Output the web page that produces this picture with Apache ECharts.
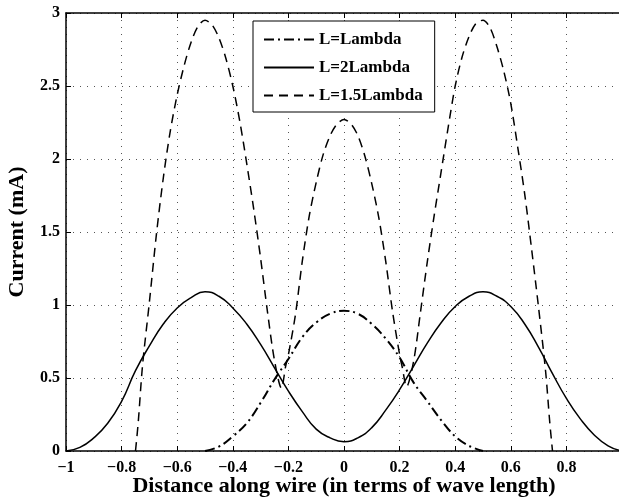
<!DOCTYPE html>
<html><head><meta charset="utf-8">
<script src="https://cdn.jsdelivr.net/npm/echarts@6/dist/echarts.min.js"></script>
<style>html,body{margin:0;padding:0;background:#fff}#c{width:619px;height:498px}</style>
</head><body><div id="c"></div>
<script>
// Series names (legend order)
const seriesNames = ['L=Lambda', 'L=2Lambda', 'L=1.5Lambda'];

// L=Lambda (dash-dot)
const lambdaX = [-0.5,-0.45,-0.4,-0.35,-0.3,-0.25,-0.2,-0.15,-0.1,-0.05,0,0.05,0.1,0.15,0.2,0.25,0.3,0.35,0.4,0.45,0.5];
const lambdaY = [0,0.03,0.10,0.19,0.33,0.49,0.63,0.78,0.88,0.94,0.96,0.94,0.87,0.77,0.64,0.47,0.34,0.21,0.10,0.035,0];

// L=2Lambda (solid)
const twoX = [-1,-0.95,-0.9,-0.85,-0.8,-0.75,-0.7,-0.65,-0.6,-0.55,-0.5,-0.45,-0.4,-0.35,-0.3,-0.25,-0.2,-0.15,-0.1,-0.05,0,
              0.05,0.1,0.15,0.2,0.25,0.3,0.35,0.4,0.45,0.5,0.55,0.6,0.65,0.7,0.75,0.8,0.85,0.9,0.95,0.99];
const twoY = [0,0.025,0.09,0.19,0.34,0.55,0.72,0.87,0.98,1.05,1.09,1.06,0.98,0.87,0.73,0.57,0.41,0.27,0.15,0.09,0.064,
              0.09,0.16,0.28,0.42,0.58,0.74,0.88,0.99,1.06,1.09,1.06,0.99,0.87,0.71,0.53,0.36,0.22,0.11,0.035,0.005];

// L=1.5Lambda (dashed)
const oneHalfX = [-0.75,-0.74,-0.725,-0.7,-0.675,-0.65,-0.625,-0.6,-0.575,-0.55,-0.525,-0.5,-0.475,-0.45,-0.425,-0.4,-0.375,-0.35,-0.325,-0.3,-0.275,-0.25,-0.225,-0.21,-0.2,-0.175,-0.15,-0.125,-0.1,-0.075,-0.05,-0.025,
                  0,0.025,0.05,0.075,0.1,0.125,0.15,0.175,0.2,0.21,0.225,0.25,0.275,0.3,0.325,0.35,0.375,0.4,0.425,0.45,0.475,0.5,0.525,0.55,0.575,0.6,0.625,0.65,0.675,0.7,0.725,0.74,0.75];
const oneHalfY = [0,0.20,0.58,1.02,1.48,1.87,2.19,2.44,2.64,2.80,2.91,2.95,2.92,2.83,2.69,2.50,2.26,1.97,1.66,1.32,0.95,0.62,0.43,0.58,0.66,0.93,1.30,1.61,1.84,2.03,2.16,2.24,
                  2.27,2.24,2.16,2.02,1.83,1.60,1.30,0.95,0.66,0.57,0.44,0.61,0.95,1.30,1.62,1.92,2.22,2.50,2.70,2.84,2.93,2.95,2.90,2.77,2.60,2.38,2.08,1.76,1.38,0.98,0.55,0.20,0];

// Axis ticks
const xMin = -1, xMax = 1, xStep = 0.2;
const yMin = 0, yMax = 3, yStep = 0.5;

const FONT = '"Liberation Serif", "Times New Roman", serif';
const pairs = (xs, ys) => xs.map((x, i) => [x, ys[i]]);
const minus = v => { const s = String(Math.round(v * 100) / 100); return s.replace('-', '\u2212'); };

const chart = echarts.init(document.getElementById('c'), null, {renderer: 'canvas'});
chart.setOption({
  animation: false,
  backgroundColor: '#fff',
  grid: {left: 66, width: 556, top: 13, bottom: 47, containLabel: false, outerBoundsMode: 'none'},
  legend: {
    data: seriesNames, orient: 'vertical', left: 253, top: 21,
    itemWidth: 50, itemHeight: 14, itemGap: 11, padding: [10, 12, 8, 10],
    borderColor: '#000', borderWidth: 1, backgroundColor: '#fff', borderRadius: 0,
    itemStyle: {opacity: 0},
    textStyle: {fontFamily: FONT, fontWeight: 'bold', fontSize: 17, color: '#000'}
  },
  xAxis: [{
    type: 'value', min: xMin, max: xMax, interval: xStep, position: 'bottom',
    name: 'Distance along wire (in terms of wave length)', nameLocation: 'middle', nameGap: 24,
    nameMoveOverlap: false,
    nameTextStyle: {fontFamily: FONT, fontWeight: 'bold', fontSize: 22, color: '#000'},
    axisLine: {show: true, onZero: false, lineStyle: {color: '#000', width: 1.5}},
    axisTick: {show: true, inside: true, length: 5, lineStyle: {color: '#000', width: 1}},
    axisLabel: {margin: 9, fontFamily: FONT, fontWeight: 'bold', fontSize: 16, color: '#000', formatter: minus},
    splitLine: {show: true, lineStyle: {color: '#555', width: 1, type: [1, 6]}}
  }, {
    type: 'value', min: xMin, max: xMax, interval: xStep, position: 'top',
    axisLine: {show: true, onZero: false, lineStyle: {color: '#000', width: 1.5}},
    axisTick: {show: true, inside: true, length: 5, lineStyle: {color: '#000', width: 1}},
    axisLabel: {show: false}, splitLine: {show: false}
  }],
  yAxis: [{
    type: 'value', min: yMin, max: yMax, interval: yStep,
    name: 'Current (mA)', nameLocation: 'middle', nameGap: 38,
    nameMoveOverlap: false,
    nameTextStyle: {fontFamily: FONT, fontWeight: 'bold', fontSize: 22, color: '#000'},
    axisLine: {show: true, onZero: false, lineStyle: {color: '#000', width: 1.5}},
    axisTick: {show: true, inside: true, length: 5, lineStyle: {color: '#000', width: 1}},
    axisLabel: {margin: 6, fontFamily: FONT, fontWeight: 'bold', fontSize: 16, color: '#000', formatter: minus},
    splitLine: {show: true, lineStyle: {color: '#555', width: 1, type: [1, 6]}}
  }],
  series: [
    {name: seriesNames[0], type: 'line', data: pairs(lambdaX, lambdaY), symbol: 'none', smooth: 0.4,
     lineStyle: {color: '#000', width: 2, type: [10, 4, 2, 4]}, itemStyle: {color: '#000'}},
    {name: seriesNames[1], type: 'line', data: pairs(twoX, twoY), symbol: 'none', smooth: 0.5,
     lineStyle: {color: '#000', width: 1.5, type: 'solid'}, itemStyle: {color: '#000'}},
    {name: seriesNames[2], type: 'line', data: pairs(oneHalfX, oneHalfY), symbol: 'none', smooth: 0.3,
     lineStyle: {color: '#000', width: 1.5, type: [9, 6]}, itemStyle: {color: '#000'}}
  ]
});
</script></body></html>
